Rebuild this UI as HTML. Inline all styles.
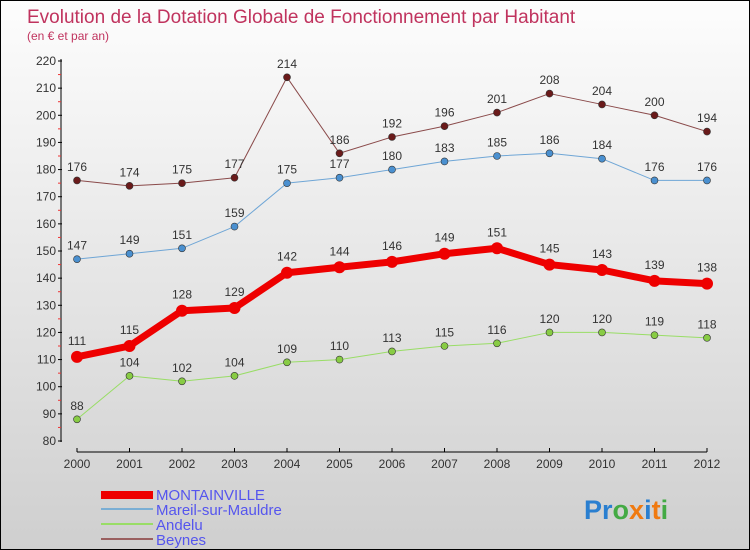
<!DOCTYPE html>
<html><head><meta charset="utf-8"><style>
body{margin:0}
#c{width:750px;height:550px;position:relative;overflow:hidden;box-sizing:border-box;border:1px solid #000;background:linear-gradient(#fdfdfd,#cfcfcf);font-family:"Liberation Sans",sans-serif}
</style></head><body>
<div id="c">
<svg id="s" width="750" height="550" style="position:absolute;left:0;top:0">
<text x="26" y="22" font-size="19" fill="#c0335e">Evolution de la Dotation Globale de Fonctionnement par Habitant</text>
<text x="26" y="39" font-size="12" fill="#c0335e">(en € et par an)</text>
<g id="axes"></g><g id="series"></g>
<g>
<rect x="100" y="490" width="52" height="8" fill="#e00"/>
<text x="155" y="499" font-size="15" fill="#5555ee">MONTAINVILLE</text>
<rect x="100" y="507" width="52" height="2" fill="#7aaed4"/>
<text x="155" y="514" font-size="15" fill="#5555ee">Mareil-sur-Mauldre</text>
<rect x="100" y="522" width="52" height="2" fill="#99dd66"/>
<text x="155" y="529" font-size="15" fill="#5555ee">Andelu</text>
<rect x="100" y="537" width="52" height="2" fill="#9a6060"/>
<text x="155" y="544" font-size="15" fill="#5555ee">Beynes</text>
</g>
<text x="583" y="518" font-size="27" font-weight="bold"><tspan fill="#2a7fd0">Pr</tspan><tspan fill="#44aa44">o</tspan><tspan fill="#f07a10">x</tspan><tspan fill="#2a7fd0">i</tspan><tspan fill="#f07a10">t</tspan><tspan fill="#44aa44">i</tspan></text>
</svg>
</div>
<script>
const years=[2000,2001,2002,2003,2004,2005,2006,2007,2008,2009,2010,2011,2012];
const montainville=[111,115,128,129,142,144,146,149,151,145,143,139,138];
const mareil=[147,149,151,159,175,177,180,183,185,186,184,176,176];
const andelu=[88,104,102,104,109,110,113,115,116,120,120,119,118];
const beynes=[176,174,175,177,214,186,192,196,201,208,204,200,194];
const yTicks=[80,90,100,110,120,130,140,150,160,170,180,190,200,210,220];
const NS="http://www.w3.org/2000/svg";
const X=i=>76+i*52.5, Y=v=>440-(v-80)*380/140;
function mk(p,t,a){const e=document.createElementNS(NS,t);for(const k in a)e.setAttribute(k,a[k]);p.appendChild(e);return e;}
const ax=document.getElementById('axes');
let e=mk(ax,'line',{x1:60,y1:58,x2:60,y2:441,stroke:'#000'});


e=mk(ax,'line',{x1:76,y1:451,x2:706,y2:451,stroke:'#000'});


yTicks.forEach(v=>{
 mk(ax,'line',{x1:57,y1:Y(v),x2:61,y2:Y(v),stroke:'#000'});
 mk(ax,'line',{x1:57,y1:Y(v+5),x2:60,y2:Y(v+5),stroke:v<220?'#e33':'none'});
 const t=mk(ax,'text',{x:55,y:Y(v)+4,'font-size':12,fill:'#333','text-anchor':'end'});t.textContent=v;
 
 
});
years.forEach((y,i)=>{
 mk(ax,'line',{x1:X(i),y1:447,x2:X(i),y2:451,stroke:'#000'});
 const t=mk(ax,'text',{x:X(i),y:467,'font-size':12,fill:'#333','text-anchor':'middle'});t.textContent=y;
 
 
});
const sg=document.getElementById('series');
function series(d,col,dot,w,r,name,below){
 const g=mk(sg,'g',{});
 
 
 const l=mk(g,'polyline',{points:d.map((v,i)=>X(i)+','+Y(v)).join(' '),fill:'none',stroke:col,'stroke-width':w,'stroke-linejoin':'round'});
 
 
 d.forEach((v,i)=>{
  const c=mk(g,'circle',{cx:X(i),cy:Y(v),r:r,fill:dot,stroke:'#333','stroke-width':r>4?0:0.6});
  
  
  const t=mk(g,'text',{x:X(i),y:Y(v)-(r+6),'font-size':12,fill:'#333','text-anchor':'middle'});t.textContent=v;
  
  
 });
}
series(beynes,'#8a4a4a','#6a1a1a',1,3.5,'beynes');
series(mareil,'#6fa6d6','#4a90d0',1,3.5,'mareil');
series(andelu,'#99dd66','#88cc44',1,3.5,'andelu');
series(montainville,'#ee0000','#ee0000',7,6,'montainville');
</script>
</body></html>
